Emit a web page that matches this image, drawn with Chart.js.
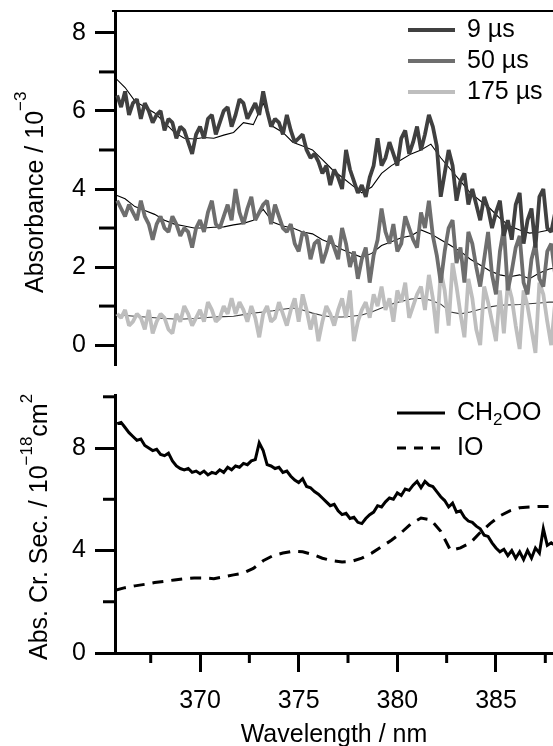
<!DOCTYPE html>
<html>
<head>
<meta charset="utf-8">
<script src="https://cdn.jsdelivr.net/npm/chart.js@4"></script>
<style>
  html, body { margin: 0; padding: 0; overflow: hidden; background: #fff; }
  canvas { position: absolute; left: 0; }
</style>
</head>
<body>
<canvas id="topChart" width="553" height="372" style="top:0"></canvas>
<canvas id="bottomChart" width="553" height="384" style="top:370px"></canvas>
<script>
// wavelength grids (nm)
const wl = Array.from({length: 112}, (_, i) => +(365.8 + 0.2 * i).toFixed(1));
const wlFit = Array.from({length: 46}, (_, i) => +(365.7 + 0.5 * i).toFixed(1));

// absorbance / 10^-3, measured
const abs9 = [6.4, 6.1, 6.5, 5.9, 6.2, 6.3, 5.8, 6.2, 6.0, 5.7,
  5.9, 6.0, 5.5, 5.8, 5.7, 5.3, 5.6, 5.5, 5.2, 4.9,
  5.4, 5.6, 5.3, 5.8, 5.9, 5.4, 5.7, 6.0, 6.1, 5.6,
  5.9, 6.3, 6.2, 5.8, 6.0, 6.2, 5.9, 6.5, 6.0, 5.6,
  5.8, 5.7, 5.4, 5.9, 5.5, 5.2, 5.3, 5.4, 5.0, 4.8,
  4.9, 4.7, 4.4, 4.6, 4.1, 4.5, 4.3, 4.0, 5.0, 4.5,
  4.2, 3.9, 4.1, 3.8, 4.3, 4.6, 5.3, 4.6, 4.8, 5.2,
  4.9, 4.6, 5.3, 5.5, 4.9, 5.2, 5.6, 5.0, 5.4, 5.9,
  5.6, 5.1, 3.8, 4.4, 5.0, 4.6, 3.7, 4.2, 4.4, 3.6,
  4.0, 3.6, 3.2, 3.8, 3.5, 3.0, 3.4, 3.7, 2.8, 3.2,
  2.7, 3.6, 3.9, 2.6, 3.2, 3.5, 2.5, 3.8, 4.0, 3.0, 2.9, 3.4];
const abs50 = [3.7, 3.5, 3.3, 3.6, 3.4, 3.2, 3.7, 3.3, 3.1, 2.7,
  3.1, 3.3, 3.0, 2.9, 3.3, 3.1, 2.8, 3.0, 2.9, 2.5,
  3.0, 3.2, 2.9, 3.4, 3.7, 3.1, 3.0, 3.3, 3.6, 3.2,
  4.0, 3.4, 3.1, 3.5, 3.8, 3.2, 3.4, 3.6, 3.7, 3.1,
  3.6, 3.3, 3.0, 2.9, 3.1, 2.6, 2.4, 2.9, 2.8, 2.2,
  2.6, 2.7, 2.1, 2.4, 2.8, 2.5, 2.2, 3.0, 2.6, 2.0,
  2.4, 1.7, 2.2, 2.5, 1.6, 2.3, 2.7, 3.5, 2.9, 2.6,
  3.1, 2.4, 2.6, 3.3, 3.0, 2.7, 2.5, 3.4, 3.0, 3.7,
  2.8, 2.3, 1.6, 2.4, 3.0, 3.2, 2.1, 2.5, 1.6, 2.9,
  2.6, 2.0, 1.5, 2.2, 2.9, 1.8, 1.3, 2.4, 3.0, 1.4,
  1.9, 2.5, 2.8, 1.6, 1.3, 2.2, 2.6, 1.7, 1.5, 2.4, 2.6, 1.8];
const abs175 = [0.8, 0.7, 0.9, 0.5, 0.6, 0.8, 0.7, 0.4, 0.9, 0.3,
  0.6, 0.8, 0.7, 0.4, 0.3, 0.8, 0.6, 1.0, 0.8, 0.5,
  0.7, 0.9, 0.6, 1.1, 0.9, 0.6, 0.7, 1.0, 0.8, 1.2,
  0.8, 1.1, 0.9, 0.6, 1.0, 0.7, 0.2, 0.8, 1.0, 0.6,
  0.7, 1.1, 0.8, 0.5, 0.9, 1.2, 0.6, 1.3, 0.9, 0.4,
  0.8, 0.1, 0.6, 1.0, 0.8, 0.5, 0.9, 1.2, 0.7, 1.4,
  0.1, 0.6, 0.9, 1.1, 0.7, 1.3, 1.0, 1.5, 0.9, 1.2,
  0.6, 1.4, 1.1, 1.6, 0.7, 1.0, 1.3, 1.5, 0.9, 1.8,
  1.2, 0.3, 1.9, 1.4, 0.5, 2.1, 1.5, 0.8, 0.2, 1.7,
  1.2, 0.4, 0.0, 1.5, 1.1, 0.6, 0.1, 1.4, 0.3, 1.6,
  1.2, 0.5, -0.1, 1.4, 1.0, 0.4, -0.2, 1.6, 1.3, 0.6, 0.0, 1.1];

// fitted absorbance (thin lines)
const fit9 = [6.85, 6.6, 6.25, 6.1, 5.95, 5.7, 5.45, 5.3, 5.28, 5.32,
  5.3, 5.38, 5.45, 5.7, 5.65, 6.2, 5.6, 5.45, 5.2, 5.1,
  5.0, 4.75, 4.5, 4.3, 4.1, 3.9, 4.05, 4.4, 4.6, 4.75,
  4.9, 5.0, 5.15, 4.8, 4.5, 4.2, 3.9, 3.7, 3.5, 3.25,
  3.05, 2.95, 2.87, 2.9, 2.95, 3.0];
const fit50 = [3.85, 3.75, 3.55, 3.45, 3.35, 3.2, 3.1, 3.05, 3.0, 3.0,
  3.02, 3.03, 3.08, 3.12, 3.2, 3.48, 3.15, 3.05, 3.0, 2.9,
  2.85, 2.7, 2.6, 2.45, 2.35, 2.25, 2.35, 2.55, 2.65, 2.75,
  2.8, 2.95, 2.85, 2.7, 2.55, 2.4, 2.2, 2.05, 1.9, 1.8,
  1.75, 1.8, 1.7, 1.85, 1.95, 2.0];
const fit175 = [0.77, 0.76, 0.74, 0.72, 0.7, 0.68, 0.67, 0.67, 0.68, 0.7,
  0.72, 0.73, 0.74, 0.78, 0.82, 0.85, 0.88, 0.92, 0.95, 0.9,
  0.82, 0.76, 0.72, 0.72, 0.74, 0.77, 0.85, 0.95, 1.05, 1.12,
  1.18, 1.2, 1.15, 1.05, 0.85, 0.8, 0.85, 0.92, 0.98, 1.02,
  1.03, 1.04, 1.06, 1.08, 1.1, 1.1];

// absorption cross sections / 10^-18 cm^2
const ch2oo = [8.95, 9.0, 8.8, 8.6, 8.45, 8.3, 8.35, 8.1, 8.0, 7.9,
  7.95, 7.75, 7.7, 7.8, 7.5, 7.3, 7.2, 7.15, 7.2, 7.05,
  7.1, 7.0, 7.1, 6.95, 7.05, 7.0, 7.15, 7.05, 7.25, 7.15,
  7.3, 7.25, 7.4, 7.35, 7.5, 7.55, 8.2, 7.9, 7.35, 7.3,
  7.2, 7.25, 7.05, 7.1, 6.9, 6.75, 6.65, 6.8, 6.5, 6.45,
  6.3, 6.2, 6.05, 5.9, 5.75, 5.8, 5.55, 5.4, 5.45, 5.25,
  5.3, 5.1, 5.05, 5.25, 5.4, 5.5, 5.75, 5.7, 5.9, 6.05,
  6.0, 6.25, 6.15, 6.4, 6.35, 6.55, 6.7, 6.45, 6.7, 6.55,
  6.5, 6.3, 6.1, 5.95, 5.7, 5.85, 5.5, 5.55, 5.3, 5.15,
  5.1, 4.95, 4.85, 4.6, 4.55, 4.3, 4.1, 3.95, 4.05, 3.8,
  4.0, 3.7, 3.95, 3.65, 4.0, 3.7, 4.1, 3.9, 4.85, 4.2, 4.3, 4.2];
const io = [2.45, 2.55, 2.62, 2.68, 2.75, 2.8, 2.85, 2.9, 2.93, 2.93,
  2.9, 2.97, 3.05, 3.12, 3.3, 3.6, 3.8, 3.9, 3.97, 3.95,
  3.85, 3.7, 3.6, 3.55, 3.58, 3.7, 3.9, 4.15, 4.4, 4.7,
  5.05, 5.27, 5.2, 4.75, 4.0, 4.1, 4.3, 4.7, 5.05, 5.35,
  5.55, 5.67, 5.7, 5.72, 5.72, 5.72];

const topLabels = ['9 µs', '50 µs', '175 µs'];
const xTicksMajor = 5;

const FONT = '"Liberation Sans", Arial, sans-serif';
Chart.defaults.font.family = FONT;
Chart.defaults.color = '#000';

const pts = (xs, ys) => xs.map((x, i) => ({x: x, y: ys[i]}));
const isMult = (v, m) => Math.abs(v / m - Math.round(v / m)) < 1e-6;

// short ticks for the unlabelled values
const minorTicks = {
  id: 'minorTicks',
  afterDraw(chart, args, opts) {
    const ctx = chart.ctx, area = chart.chartArea;
    ctx.save();
    ctx.strokeStyle = '#000';
    ctx.lineWidth = 3;
    for (const id in opts) {
      const s = chart.scales[id];
      if (!s) continue;
      s.ticks.forEach(t => {
        if (isMult(t.value, opts[id].every)) return;
        const p = s.getPixelForValue(t.value);
        ctx.beginPath();
        if (s.isHorizontal()) {
          ctx.moveTo(p, area.bottom);
          ctx.lineTo(p, area.bottom + opts[id].len);
        } else {
          ctx.moveTo(area.left - opts[id].len, p);
          ctx.lineTo(area.left, p);
        }
        ctx.stroke();
      });
    }
    ctx.restore();
  }
};

function drawRotated(ctx, parts, x, y) {
  ctx.save();
  ctx.translate(x, y);
  ctx.rotate(-Math.PI / 2);
  ctx.textAlign = 'left';
  ctx.textBaseline = 'alphabetic';
  ctx.fillStyle = '#000';
  let pos = 0;
  for (const [text, size, raise] of parts) {
    ctx.font = size + 'px ' + FONT;
    ctx.fillText(text, pos, -raise);
    pos += ctx.measureText(text).width;
  }
  ctx.restore();
}

function drawRich(ctx, parts, x, y) {
  ctx.textAlign = 'left';
  ctx.textBaseline = 'middle';
  ctx.fillStyle = '#000';
  let pos = x;
  for (const [text, size, shift] of parts) {
    ctx.font = size + 'px ' + FONT;
    ctx.fillText(text, pos, y + shift);
    pos += ctx.measureText(text).width;
  }
}

const topDecor = {
  id: 'topDecor',
  afterDraw(chart) {
    const ctx = chart.ctx;
    ctx.save();
    ctx.strokeStyle = '#000';
    ctx.lineWidth = 2;
    ctx.beginPath();
    ctx.moveTo(112, 11);
    ctx.lineTo(chart.width, 11);
    ctx.stroke();
    drawRotated(ctx, [['Absorbance / 10', 25, 0], ['\u22123', 17, 17]], 43, 293);
    const ds = chart.data.datasets;
    [0, 1, 2].forEach(i => {
      const y = 30 + i * 31;
      ctx.strokeStyle = ds[i].borderColor;
      ctx.lineWidth = 4;
      ctx.beginPath();
      ctx.moveTo(408, y);
      ctx.lineTo(455, y);
      ctx.stroke();
      drawRich(ctx, [[topLabels[i], 25, 0]], 467, y);
    });
    ctx.restore();
  }
};

const bottomDecor = {
  id: 'bottomDecor',
  afterDraw(chart) {
    const ctx = chart.ctx;
    ctx.save();
    drawRotated(ctx, [['Abs. Cr. Sec. / 10', 25, 0], ['\u221218', 17, 15], ['cm', 25, 0], ['2', 17, 15]], 47, 290);
    ctx.strokeStyle = '#000';
    ctx.lineWidth = 3;
    ctx.beginPath();
    ctx.moveTo(397, 43);
    ctx.lineTo(445, 43);
    ctx.stroke();
    ctx.setLineDash([9, 8]);
    ctx.beginPath();
    ctx.moveTo(397, 78);
    ctx.lineTo(445, 78);
    ctx.stroke();
    ctx.setLineDash([]);
    drawRich(ctx, [['CH', 25, 0], ['2', 17, 7], ['OO', 25, 0]], 457, 43);
    drawRich(ctx, [['IO', 25, 0]], 457, 78);
    ctx.restore();
  }
};

const xMin = 365.69, xMax = 387.89;

const yAxisCommon = (every, len, step) => ({
  ticks: {
    font: {size: 25},
    padding: 9,
    stepSize: step,
    autoSkip: false,
    includeBounds: false,
    callback: v => isMult(v, every) ? String(v) : ''
  },
  grid: {
    drawOnChartArea: false,
    tickLength: len,
    tickWidth: 3,
    tickColor: c => isMult(c.tick.value, every) ? '#000' : 'rgba(0,0,0,0)'
  },
  border: {color: '#000', width: 3},
  afterFit: s => { s.width = 115; s.paddingTop = 0; s.paddingBottom = 0; }
});

const dataLine = (data, color) => ({
  data: data, borderColor: color, borderWidth: 3.8, borderJoinStyle: 'bevel', pointRadius: 0, tension: 0
});
const fitLine = (data, color) => ({
  data: data, borderColor: color, borderWidth: 1.1, pointRadius: 0, tension: 0
});

new Chart(document.getElementById('topChart'), {
  type: 'line',
  data: {
    datasets: [
      dataLine(pts(wl, abs9), '#404040'),
      dataLine(pts(wl, abs50), '#6e6e6e'),
      dataLine(pts(wl, abs175), '#bebebe'),
      fitLine(pts(wlFit, fit9), '#000'),
      fitLine(pts(wlFit, fit50), '#000'),
      fitLine(pts(wlFit, fit175), '#3a3a3a')
    ]
  },
  options: {
    responsive: false,
    devicePixelRatio: 1,
    animation: false,
    layout: {padding: {top: 13, bottom: 7, left: 0, right: 0}},
    plugins: {legend: {display: false}, tooltip: {enabled: false}, minorTicks: {y: {every: 2, len: 16}}},
    scales: {
      x: {type: 'linear', min: xMin, max: xMax, display: false},
      y: Object.assign({min: -0.51, max: 8.51}, yAxisCommon(2, 20, 1))
    }
  },
  plugins: [minorTicks, topDecor]
});

new Chart(document.getElementById('bottomChart'), {
  type: 'line',
  data: {
    datasets: [
      {data: pts(wl, ch2oo), borderColor: '#000', borderWidth: 3, pointRadius: 0, tension: 0},
      {data: pts(wlFit, io), borderColor: '#000', borderWidth: 3, borderDash: [11, 8], pointRadius: 0, tension: 0}
    ]
  },
  options: {
    responsive: false,
    devicePixelRatio: 1,
    animation: false,
    layout: {padding: {top: 25, bottom: 0, left: 0, right: 0}},
    plugins: {legend: {display: false}, tooltip: {enabled: false}, minorTicks: {x: {every: 5, len: 10}, y: {every: 4, len: 12}}},
    scales: {
      x: {
        type: 'linear', min: xMin, max: xMax,
        ticks: {
          stepSize: 2.5, font: {size: 25}, padding: 14, autoSkip: false, includeBounds: false, maxRotation: 0,
          callback: v => isMult(v, xTicksMajor) ? String(v) : ''
        },
        grid: {
          drawOnChartArea: false, tickLength: 19, tickWidth: 3,
          tickColor: c => isMult(c.tick.value, xTicksMajor) ? '#000' : 'rgba(0,0,0,0)'
        },
        border: {color: '#000', width: 3},
        title: {display: true, text: 'Wavelength / nm', font: {size: 25}, padding: {top: 0, bottom: 4}},
        afterFit: s => { s.height = 101; s.paddingLeft = 0; s.paddingRight = 0; }
      },
      y: Object.assign({min: 0, max: 10.07}, yAxisCommon(4, 20, 2))
    }
  },
  plugins: [minorTicks, bottomDecor]
});
</script>
</body>
</html>
